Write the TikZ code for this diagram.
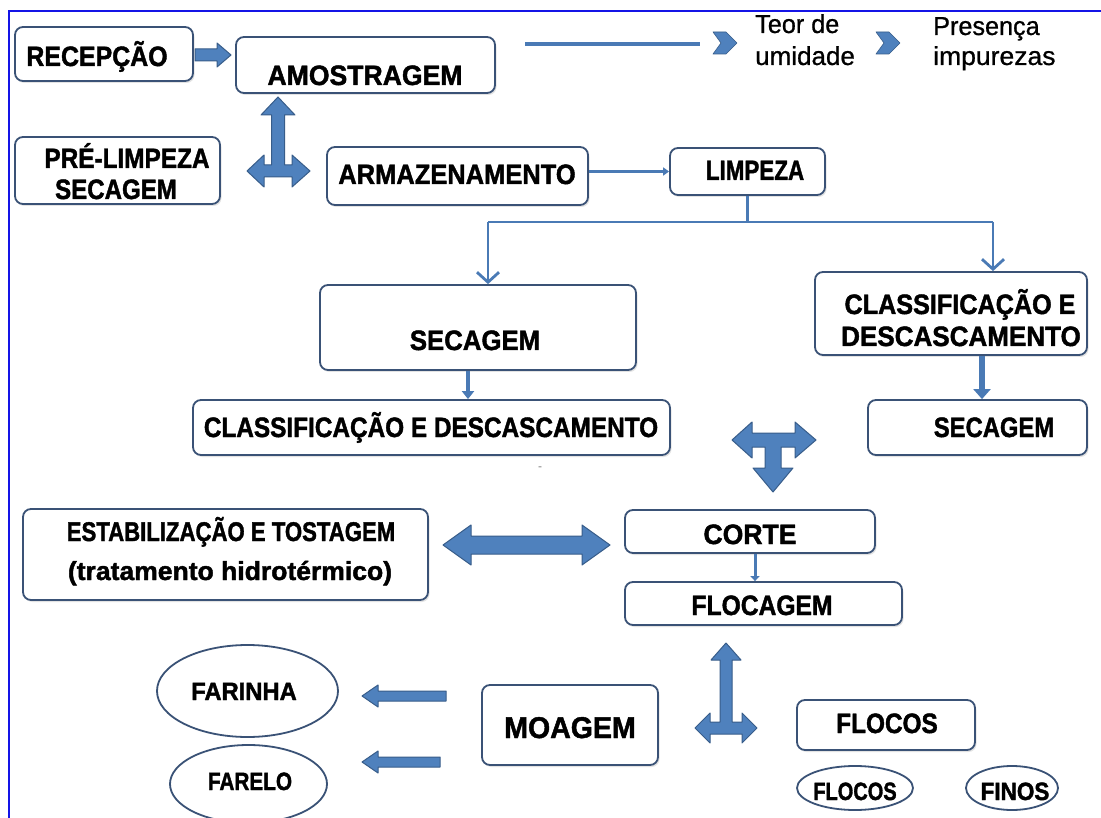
\documentclass[tikz,border=0pt]{standalone}
\usepackage{fontspec}
\usepackage{graphicx}
\setmainfont{Liberation Sans}[BoldFeatures={FakeBold=1.6}]
\newfontfamily\regheavy{Liberation Sans}[FakeBold=0.8]
\usetikzlibrary{arrows.meta,shapes.geometric,shadows}
\definecolor{bxline}{RGB}{58,82,118}
\definecolor{afill}{RGB}{79,129,189}
\definecolor{aline}{RGB}{56,93,138}
\definecolor{cline}{RGB}{74,122,181}
\definecolor{frameblue}{RGB}{20,20,230}
\newcommand{\Lb}[3]{\scalebox{#1}[1]{\fontsize{#2}{#2}\selectfont\bfseries #3}}
\newcommand{\Lr}[3]{\scalebox{#1}[1]{\fontsize{#2}{#2}\selectfont\regheavy #3}}
\begin{document}
\begin{tikzpicture}[x=1pt,y=-1pt,
  box/.style={draw=bxline, line width=1.8pt, rounded corners=8pt, fill=white, inner sep=0pt,
    drop shadow={opacity=0.22, shadow xshift=1.5pt, shadow yshift=-2pt}},
  oval/.style={draw=bxline, line width=1.8pt, ellipse, fill=white, inner sep=0pt},
  lab/.style={anchor=base, inner sep=0pt, text=black},
  labw/.style={anchor=base west, inner sep=0pt, text=black},
  blk/.style={fill=afill, draw=aline, line width=1pt, line join=round},
  conn/.style={draw=cline, line width=2.8pt},
]
\useasboundingbox (0,0) rectangle (1101,818);
\fill[white] (0,0) rectangle (1101,818);
\draw[frameblue, line width=2pt] (1101,11) -- (9,11) -- (9,818);

% boxes
\node[box, minimum width=178pt, minimum height=54pt] (rec) at (104,54) {};
\node[box, minimum width=259pt, minimum height=56pt] (amo) at (365.5,65) {};
\node[box, minimum width=205pt, minimum height=67pt] (pre) at (117.5,170.5) {};
\node[box, minimum width=261pt, minimum height=58pt] (arm) at (457.5,176) {};
\node[box, minimum width=155pt, minimum height=47pt] (lim) at (747.5,171.5) {};
\node[box, minimum width=316pt, minimum height=85pt] (sec1) at (478,327.5) {};
\node[box, minimum width=272pt, minimum height=83pt] (cla1) at (951,313.5) {};
\node[box, minimum width=477pt, minimum height=55pt] (cla2) at (431.5,427.5) {};
\node[box, minimum width=219pt, minimum height=55pt] (sec2) at (977.5,427.5) {};
\node[box, minimum width=405pt, minimum height=91pt] (est) at (225.5,554.5) {};
\node[box, minimum width=250pt, minimum height=43pt] (cor) at (750,531.5) {};
\node[box, minimum width=277pt, minimum height=43pt] (flo) at (763.5,603.5) {};
\node[box, minimum width=176pt, minimum height=80pt] (moa) at (570,725) {};
\node[box, minimum width=178pt, minimum height=50pt] (flc) at (886,725) {};
\node[oval, minimum width=181pt, minimum height=92pt] (far) at (247.5,691) {};
\node[oval, minimum width=157pt, minimum height=78pt] (fal) at (248.5,784) {};
\node[oval, minimum width=116pt, minimum height=44pt] (fl2) at (855,788) {};
\node[oval, minimum width=92pt, minimum height=44pt] (fin) at (1012,788) {};

% labels
\node[lab] (recT) at (97,66) {\Lb{0.89}{28}{RECEPÇÃO}};
\node[lab] (amoT) at (365,85) {\Lb{0.95}{28}{AMOSTRAGEM}};
\node[lab] (preT1) at (127,168) {\Lb{0.87}{28}{PRÉ-LIMPEZA}};
\node[lab] (preT2) at (116,199) {\Lb{0.86}{28}{SECAGEM}};
\node[lab] (armT) at (457,184) {\Lb{0.91}{28}{ARMAZENAMENTO}};
\node[lab] (limT) at (755,180) {\Lb{0.8}{28}{LIMPEZA}};
\node[lab] (sec1T) at (475,350) {\Lb{0.92}{28}{SECAGEM}};
\node[lab] (cla1T1) at (960,314) {\Lb{0.9}{28}{CLASSIFICAÇÃO E}};
\node[lab] (cla1T2) at (961,346) {\Lb{0.93}{28}{DESCASCAMENTO}};
\node[lab] (cla2T) at (431,437) {\Lb{0.87}{28}{CLASSIFICAÇÃO E DESCASCAMENTO}};
\node[lab] (sec2T) at (994,437) {\Lb{0.85}{28}{SECAGEM}};
\node[lab] (estT1) at (231,541) {\Lb{0.82}{27}{ESTABILIZAÇÃO E TOSTAGEM}};
\node[lab] (estT2) at (230,580) {\Lb{1.02}{26}{(tratamento hidrotérmico)}};
\node[lab] (corT) at (750,544) {\Lb{0.95}{28}{CORTE}};
\node[lab] (floT) at (762,615) {\Lb{0.88}{28}{FLOCAGEM}};
\node[lab] (moaT) at (570,738) {\Lb{0.95}{30}{MOAGEM}};
\node[lab] (flcT) at (887,733) {\Lb{0.87}{28}{FLOCOS}};
\node[lab] (farT) at (244,700) {\Lb{0.95}{25}{FARINHA}};
\node[lab] (falT) at (250,790) {\Lb{0.83}{25}{FARELO}};
\node[lab] (fl2T) at (855,800) {\Lb{0.8}{25}{FLOCOS}};
\node[lab] (finT) at (1015,800) {\Lb{0.9}{25}{FINOS}};
\node[labw] (teor1) at (755,33) {\Lr{0.97}{26}{Teor de}};
\node[labw] (teor2) at (755,65) {\Lr{1}{26}{umidade}};
\node[labw] (pres1) at (933,35) {\Lr{0.97}{26}{Presença}};
\node[labw] (pres2) at (933,65) {\Lr{1.02}{26}{impurezas}};
\node[lab, text=gray] (dash) at (540,470) {\fontsize{12}{12}\selectfont -};

% line and chevrons after AMOSTRAGEM
\coordinate (l1) at (525,44);
\coordinate (l2) at (700,44);
\draw[cline, line width=3.5pt] (l1) -- (l2);
\draw[blk, line width=0.6pt] (713,32) -- (726,32) -- (737,43) -- (726,54) -- (713,54) -- (721,43) -- cycle;
\draw[blk, line width=0.6pt] (876,32) -- (889,32) -- (900,43) -- (889,54) -- (876,54) -- (884,43) -- cycle;

% block arrow RECEPCAO -> AMOSTRAGEM
\draw[blk] (195,49) -- (217,49) -- (217,43) -- (231,55) -- (217,67) -- (217,61) -- (195,61) -- cycle;

% T arrow 1 (up, left, right)
\draw[blk] (278,97) -- (295,115) -- (284.5,115) -- (284.5,165) -- (292,165) -- (292,155) -- (310,171) -- (292,187) -- (292,177) -- (264,177) -- (264,187) -- (247,171) -- (264,155) -- (264,165) -- (271.5,165) -- (271.5,115) -- (261,115) -- cycle;

% T arrow 2 (left, right, down)
\draw[blk] (732,440) -- (752,422) -- (752,433) -- (795,433) -- (795,422) -- (816,440) -- (795,458) -- (795,447) -- (781,447) -- (781,468) -- (793,468) -- (773,492) -- (753,468) -- (765,468) -- (765,447) -- (752,447) -- (752,458) -- cycle;

% T arrow 3 (up, left, right)
\draw[blk] (726,643) -- (741,660) -- (732,660) -- (732,722) -- (742,722) -- (742,713) -- (757,728) -- (742,743) -- (742,734) -- (710,734) -- (710,743) -- (695,728) -- (710,713) -- (710,722) -- (720,722) -- (720,660) -- (711,660) -- cycle;

% double arrow ESTAB <-> CORTE
\draw[blk] (443,545) -- (471,525) -- (471,536) -- (582,536) -- (582,525) -- (610,545) -- (582,565) -- (582,554) -- (471,554) -- (471,565) -- cycle;

% left arrows from MOAGEM
\draw[blk] (362,696) -- (378,685) -- (378,691) -- (446,691) -- (446,701) -- (378,701) -- (378,707) -- cycle;
\draw[blk] (362,762) -- (378,751) -- (378,757) -- (440,757) -- (440,767) -- (378,767) -- (378,773) -- cycle;

% thin connectors
\draw[conn, -{Triangle[length=6pt,width=8pt]}] (arm.east |- lim.west) -- (lim.west);
\coordinate (jc) at (747.5,222);
\coordinate (jl) at (488,222);
\coordinate (jr) at (993,222);
\draw[conn] (lim.south) -- (jc);
\draw[conn] (jl) -- (jr);
\draw[conn, -{Straight Barb[length=10pt,width=22pt]}] (jl) -- (jl |- sec1.north);
\draw[conn, -{Straight Barb[length=10pt,width=22pt]}] (jr) -- (jr |- cla1.north);
\coordinate (x1) at (468,0);
\coordinate (x2) at (982,0);
\coordinate (x3) at (755,0);
\draw[cline, line width=4pt, -{Triangle[length=8pt,width=12pt]}] (x1 |- sec1.south) -- (x1 |- cla2.north);
\draw[cline, line width=6pt, -{Triangle[length=10pt,width=17pt]}] (x2 |- cla1.south) -- (x2 |- sec2.north);
\draw[cline, line width=3pt, -{Triangle[length=5pt,width=9pt]}] (x3 |- cor.south) -- (x3 |- flo.north);
\end{tikzpicture}
\end{document}
